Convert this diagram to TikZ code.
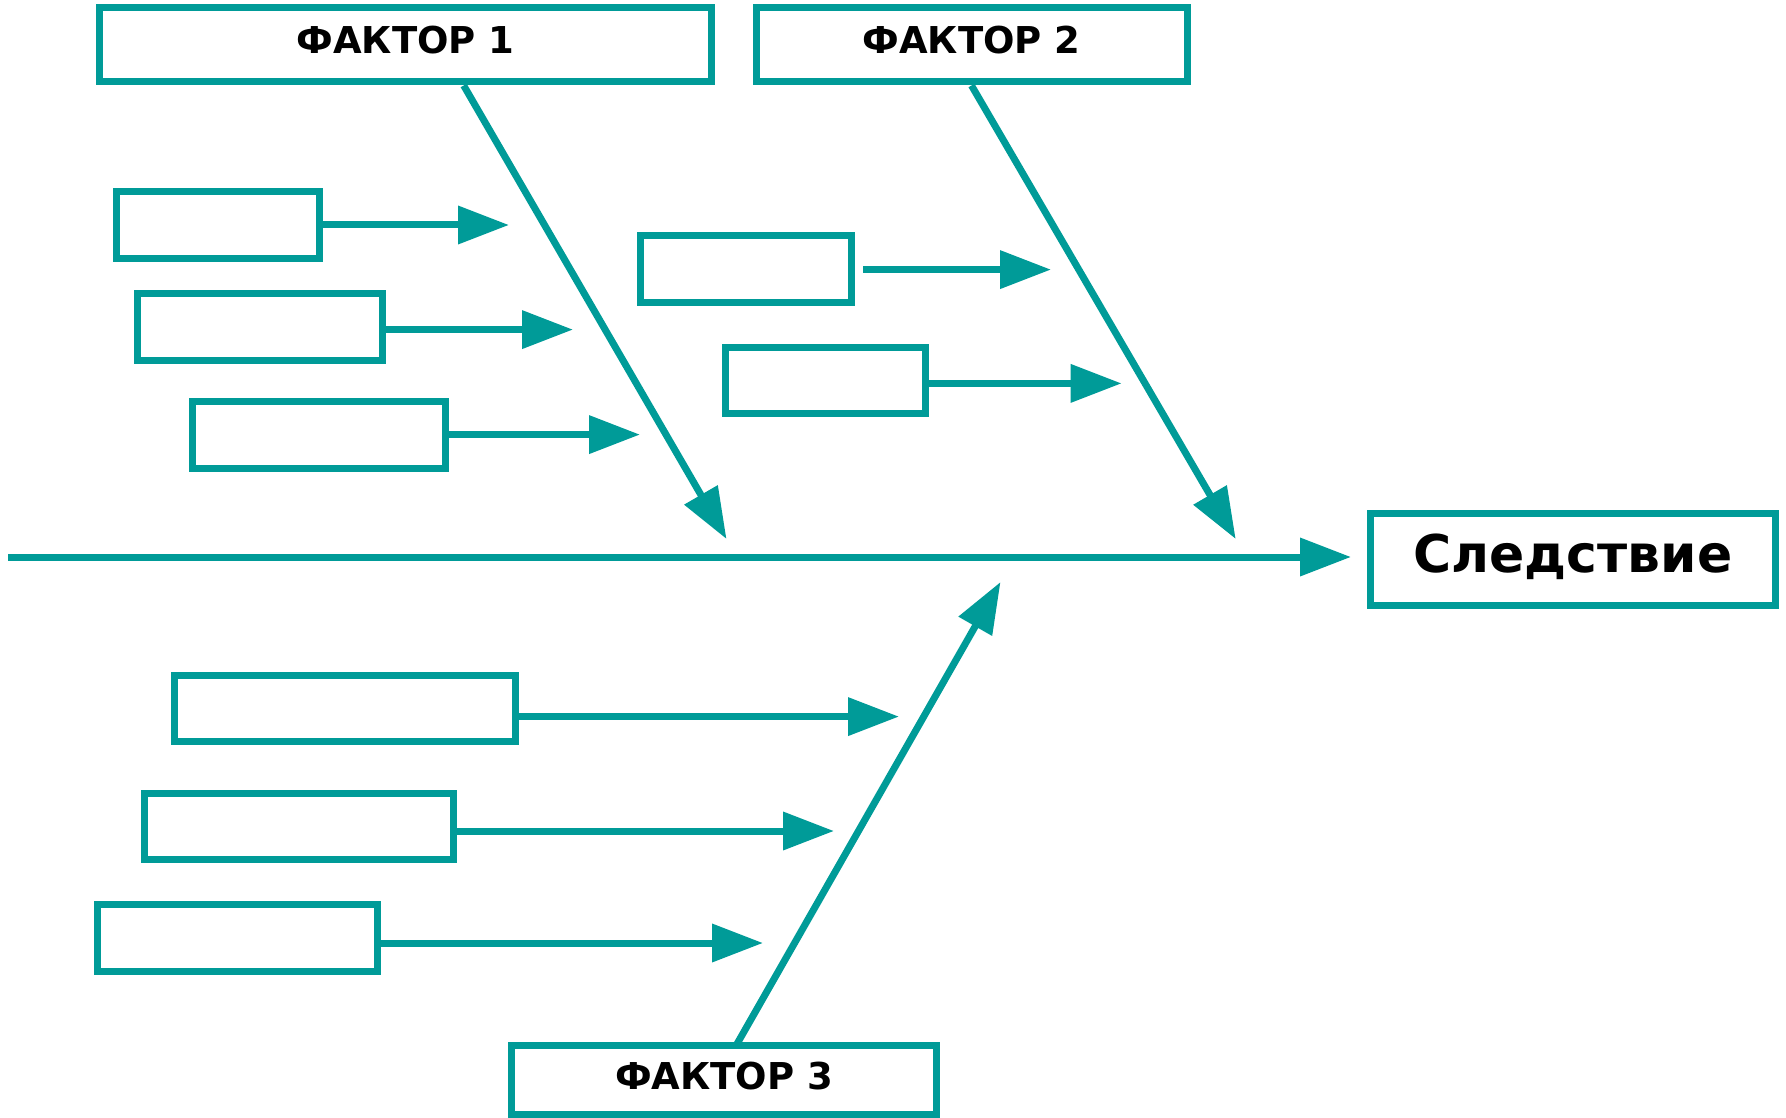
\documentclass[tikz,border=0pt]{standalone}
\usepackage{fontspec}
\setmainfont{DejaVu Sans}
\usetikzlibrary{arrows.meta,calc}
\definecolor{tealc}{RGB}{0,155,152}
\begin{document}
\begin{tikzpicture}[x=1pt,y=-1pt,
  box/.style={draw=tealc, line width=7pt, rectangle, inner sep=0pt, fill=white},
  con/.style={draw=tealc, line width=7pt, -{Triangle[length=51pt,width=37pt]}},
  ftext/.style={font=\bfseries\fontsize{37}{37}\selectfont, text height=27pt, text depth=9pt},
  etext/.style={font=\bfseries\fontsize{52}{52}\selectfont, text height=40pt, text depth=14pt}]
\useasboundingbox (0,0) rectangle (1786,1118);
% factor boxes
\node[box, ftext, minimum width=612pt, minimum height=74pt] (f1) at (405.5,45) {ФАКТОР 1};
\node[box, ftext, minimum width=431pt, minimum height=74pt] (f2) at (971.5,45) {ФАКТОР 2};
\node[box, ftext, minimum width=425pt, minimum height=69pt] (f3) at (724,1080) {ФАКТОР 3};
\node[box, etext, minimum width=405pt, minimum height=92pt] (eff) at (1573,559.5) {Следствие};
% cause boxes
\node[box, minimum width=203pt, minimum height=67pt] (a1) at (218,225) {};
\node[box, minimum width=245pt, minimum height=66.5pt] (a2) at (260,327) {};
\node[box, minimum width=253pt, minimum height=67pt] (a3) at (319,434.5) {};
\node[box, minimum width=211pt, minimum height=66.5pt] (b1) at (746,269) {};
\node[box, minimum width=200pt, minimum height=66pt] (b2) at (825.5,380.5) {};
\node[box, minimum width=341.5pt, minimum height=66pt] (c1) at (345,708.5) {};
\node[box, minimum width=309.5pt, minimum height=66pt] (c2) at (299,826) {};
\node[box, minimum width=280pt, minimum height=66.5pt] (c3) at (237.5,938) {};
% free ends
\coordinate (s0) at (8,557);
\coordinate (t1) at (726.5,539);
\coordinate (t2) at (1235.7,539);
\coordinate (t3) at (1000.5,582);
\coordinate (ta1) at (509,225);
\coordinate (ta2) at (573,329.6);
\coordinate (ta3) at (640,434.6);
\coordinate (tb1) at (1051,269.6);
\coordinate (tb2) at (1121.6,383.4);
\coordinate (tc1) at (899,716.6);
\coordinate (tc2) at (834,831);
\coordinate (tc3) at (763,943);
% spine
\draw[con, shorten >=16pt] (s0) -- (eff.west |- s0);
% factor arrows
\draw[con] ($(f1.south west)!0.594!(f1.south east)$) -- (t1);
\draw[con] ($(f2.south west)!0.5!(f2.south east)$) -- (t2);
\draw[con] ([yshift=-2pt]$(f3.north west)!0.53!(f3.north east)$) -- (t3);
% cause arrows
\draw[con] (a1.east |- ta1) -- (ta1);
\draw[con] (a2.east |- ta2) -- (ta2);
\draw[con] (a3.east |- ta3) -- (ta3);
\draw[con] ([xshift=8pt]b1.east |- tb1) -- (tb1);
\draw[con] (b2.east |- tb2) -- (tb2);
\draw[con] (c1.east |- tc1) -- (tc1);
\draw[con] (c2.east |- tc2) -- (tc2);
\draw[con] (c3.east |- tc3) -- (tc3);
\end{tikzpicture}
\end{document}
